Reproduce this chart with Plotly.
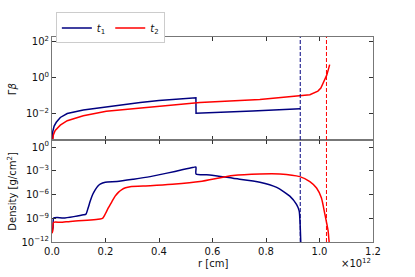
import plotly.graph_objects as go

# r in units of 1e12 cm
r_gb_t1 = [0.0, 0.003, 0.008, 0.016, 0.031, 0.057, 0.117, 0.203, 0.273, 0.303, 0.33, 0.40, 0.50, 0.538, 0.5385, 0.60, 0.75, 0.928]
gb_t1 = [1e-4, 10**-3.0, 10**-2.7, 10**-2.49, 10**-2.22, 10**-2.0, 10**-1.8, 10**-1.63, 10**-1.47,
         10**-1.42, 10**-1.38, 10**-1.28, 10**-1.16, 10**-1.12, 10**-1.98, 10**-1.95, 10**-1.86, 10**-1.73]

r_gb_t2 = [0.0, 0.005, 0.012, 0.031, 0.057, 0.117, 0.203, 0.40, 0.553, 0.777, 0.926, 0.964, 0.994, 1.005, 1.012, 1.020, 1.027, 1.033, 1.038]
gb_t2 = [1e-4, 10**-3.2, 10**-2.95, 10**-2.65, 10**-2.4, 10**-2.13, 10**-1.87, 10**-1.58, 10**-1.38,
         10**-1.22, 10**-1.03, 10**-0.95, 10**-0.75, 10**-0.58, 10**-0.35, 10**-0.1, 10**0.14, 10**0.45, 10**0.73]

r_rho_t1 = [0.0, 0.004, 0.006, 0.019, 0.043, 0.118, 0.127, 0.135, 0.143, 0.152, 0.162, 0.171, 0.180, 0.199, 0.243,
            0.305, 0.367, 0.43, 0.49, 0.525, 0.538, 0.5385, 0.59, 0.677, 0.777, 0.84, 0.889, 0.914, 0.924, 0.928, 0.930, 0.932]
rho_t1 = [10**-10.6, 10**-10.14, 10**-8.98, 10**-8.9, 10**-8.98, 10**-8.57, 10**-8.48, 10**-7.7, 10**-6.83, 10**-6.0,
          10**-5.38, 10**-4.95, 10**-4.69, 10**-4.44, 10**-4.36, 10**-4.07, 10**-3.74, 10**-3.3, 10**-2.85, 10**-2.6,
          10**-2.53, 10**-3.42, 10**-3.52, 10**-3.95, 10**-4.44, 10**-5.1, 10**-6.2, 10**-7.25, 10**-8.07,
          10**-10.1, 10**-12.0, 10**-13.0]

r_rho_t2 = [0.0, 0.003, 0.006, 0.031, 0.068, 0.180, 0.19, 0.20, 0.211, 0.224, 0.236, 0.249, 0.261, 0.275, 0.292,
            0.367, 0.45, 0.553, 0.677, 0.777, 0.852, 0.926, 0.964, 0.989, 1.007, 1.020, 1.032, 1.036, 1.040]
rho_t2 = [10**-10.9, 10**-10.55, 10**-9.52, 10**-9.52, 10**-9.4, 10**-9.1, 10**-8.98, 10**-8.4, 10**-7.66, 10**-6.9,
          10**-6.21, 10**-5.7, 10**-5.38, 10**-5.15, 10**-5.01, 10**-4.89, 10**-4.7, 10**-4.36, 10**-3.6, 10**-3.4,
          10**-3.4, 10**-3.74, 10**-4.36, 10**-5.18, 10**-6.42, 10**-8.48, 10**-10.55, 10**-12.0, 10**-13.0]

shock_r = [0.928, 1.026]
series_names = ["<i>t</i><sub>1</sub>", "<i>t</i><sub>2</sub>"]
colors = ["#000080", "#FF0000"]

x_ticks = [0.0, 0.2, 0.4, 0.6, 0.8, 1.0, 1.2]
x_ticktext = ["0.0", "0.2", "0.4", "0.6", "0.8", "1.0", "1.2"]
gb_ticks = [1e2, 1e0, 1e-2]
gb_ticktext = ["10<sup>2</sup>", "10<sup>0</sup>", "10<sup>−2</sup>"]
rho_ticks = [1e0, 1e-3, 1e-6, 1e-9, 1e-12]
rho_ticktext = ["10<sup>0</sup>", "10<sup>−3</sup>", "10<sup>−6</sup>", "10<sup>−9</sup>", "10<sup>−12</sup>"]

fig = go.Figure()
fig.add_trace(go.Scatter(x=r_gb_t1, y=gb_t1, mode="lines", line=dict(color=colors[0], width=1.5),
                         name=series_names[0], xaxis="x", yaxis="y"))
fig.add_trace(go.Scatter(x=r_gb_t2, y=gb_t2, mode="lines", line=dict(color=colors[1], width=1.5),
                         name=series_names[1], xaxis="x", yaxis="y"))
fig.add_trace(go.Scatter(x=r_rho_t1, y=rho_t1, mode="lines", line=dict(color=colors[0], width=1.5, shape="spline", smoothing=0.6),
                         showlegend=False, xaxis="x2", yaxis="y2"))
fig.add_trace(go.Scatter(x=r_rho_t2, y=rho_t2, mode="lines", line=dict(color=colors[1], width=1.5, shape="spline", smoothing=0.6),
                         showlegend=False, xaxis="x2", yaxis="y2"))

for sr, c in zip(shock_r, colors):
    fig.add_shape(type="line", xref="x2", yref="paper", x0=sr, x1=sr, y0=0, y1=1,
                  line=dict(color=c, width=1, dash="4px,2px"))

axcol = "#777777"
common_x = dict(range=[0, 1.2], tickvals=x_ticks, ticks="inside", ticklen=4, tickcolor="#333",
                showline=True, linecolor=axcol, mirror="allticks", showgrid=False, zeroline=False,
                automargin=False,
                tickfont=dict(family="DejaVu Sans", size=10, color="#111"))
common_y = dict(ticks="inside", ticklen=4, tickcolor="#333", showline=True, linecolor=axcol,
                mirror="allticks", showgrid=False, zeroline=False, automargin=False,
                tickfont=dict(family="DejaVu Sans", size=10, color="#111"))
fig.update_layout(
    width=415, height=277,
    margin=dict(l=52, r=42, t=33, b=35),
    paper_bgcolor="white", plot_bgcolor="white",
    showlegend=True,
    legend=dict(orientation="h", x=0.012, y=1.12, xanchor="left", yanchor="top",
                bordercolor="#cccccc", borderwidth=1,
                font=dict(family="DejaVu Sans", size=10, color="#111"),
                itemwidth=30, tracegroupgap=0),
    xaxis=dict(domain=[0, 1], anchor="y", showticklabels=False, **common_x),
    xaxis2=dict(domain=[0, 1], anchor="y2", showticklabels=True, ticktext=x_ticktext, **common_x),
    yaxis=dict(domain=[0.5, 1], anchor="x", type="log", range=[-3.45, 2.27], tickvals=gb_ticks,
               ticktext=gb_ticktext, **common_y),
    yaxis2=dict(domain=[0, 0.5], anchor="x2", type="log", range=[-12, 0.95], tickvals=rho_ticks,
                ticktext=rho_ticktext, **common_y),
)

fig.add_annotation(text="Γ<i>β</i>", xref="paper", yref="paper", x=-0.125, y=0.75, showarrow=False,
                   xanchor="center", yanchor="middle",
                   textangle=-90, font=dict(family="DejaVu Sans", size=10, color="#111"))
fig.add_annotation(text="Density [g/cm<sup>2</sup>]", xref="paper", yref="paper", x=-0.125, y=0.25,
                   xanchor="center", yanchor="middle",
                   showarrow=False, textangle=-90, font=dict(family="DejaVu Sans", size=10, color="#111"))
fig.add_annotation(text="r [cm]", xref="paper", yref="paper", x=0.5, y=-0.07, yanchor="top",
                   showarrow=False, font=dict(family="DejaVu Sans", size=10, color="#111"))
fig.add_annotation(text="×10<sup>12</sup>", xref="paper", yref="paper", x=1.0, y=-0.062, xanchor="right",
                   yanchor="top", showarrow=False, font=dict(family="DejaVu Sans", size=10, color="#111"))

fig.write_html("out.html", config={"displayModeBar": False},
               post_script="document.body.style.margin='0px';")
